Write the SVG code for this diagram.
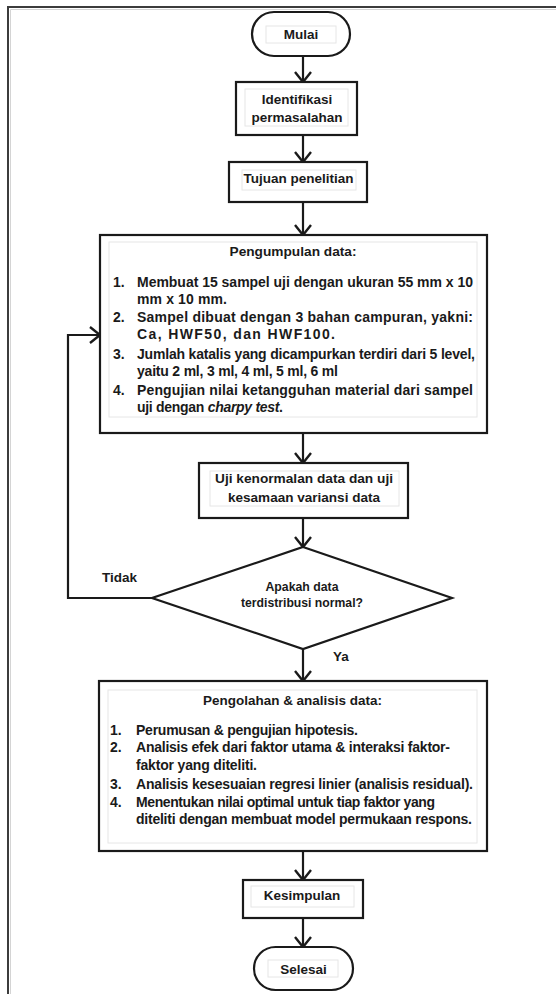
<svg xmlns="http://www.w3.org/2000/svg" width="556" height="994" viewBox="0 0 556 994">
<style>
  text { font-family: "Liberation Sans", Arial, sans-serif; font-weight: bold; font-size: 13.5px; fill: #1a1a1a; }
  .c { text-anchor: middle; }
  .d { font-size: 12px; }
  .l { font-size: 14px; }
  .box { fill: #ffffff; stroke: #1a1a1a; stroke-width: 2.2; }
  .inner { fill: none; stroke: #e6e6e6; stroke-width: 1; }
  .conn { fill: none; stroke: #1a1a1a; stroke-width: 2.2; marker-end: url(#arr); }
</style>
<defs>
  <marker id="arr" markerUnits="userSpaceOnUse" viewBox="-12 -10 14 20" markerWidth="14" markerHeight="20" refX="0" refY="0" orient="auto">
    <path d="M-10,-8 L0,0 L-10,8" fill="none" stroke="#1a1a1a" stroke-width="2.4"/>
  </marker>
</defs>
<rect width="556" height="994" fill="#ffffff"/>
<g id="frame">
  <path d="M8,994 V7 H556" fill="none" stroke="#3c3c3c" stroke-width="2"/>
  <path d="M10.5,994 V9.5 H556" fill="none" stroke="#d4d4d4" stroke-width="1"/>
</g>
<g id="connectors">
  <path class="conn" d="M303,56 V82"/>
  <path class="conn" d="M303,135 V162"/>
  <path class="conn" d="M303,202 V235"/>
  <path class="conn" d="M303,433 V463"/>
  <path class="conn" d="M303,518 V547"/>
  <path class="conn" d="M303,649 V681"/>
  <path class="conn" d="M303,851 V880"/>
  <path class="conn" d="M303,918 V947"/>
  <path class="conn" d="M152,598 H68 V335 H100"/>
  <text x="102" y="582">Tidak</text>
  <text x="333" y="661">Ya</text>
</g>
<g id="mulai">
  <rect class="box" x="252" y="12" width="98" height="44" rx="22"/>
  <rect class="inner" x="266" y="26" width="70" height="17"/>
  <text class="c" x="301" y="39">Mulai</text>
</g>
<g id="identifikasi">
  <rect class="box" x="236" y="82" width="121" height="53"/>
  <rect class="inner" x="245" y="89" width="103" height="37"/>
  <text class="c" x="297" y="104">Identifikasi</text>
  <text class="c" x="297" y="122">permasalahan</text>
</g>
<g id="tujuan">
  <rect class="box" x="229" y="162" width="138" height="40"/>
  <rect class="inner" x="242" y="170" width="114" height="20"/>
  <text class="c" x="298.5" y="183">Tujuan penelitian</text>
</g>
<g id="pengumpulan">
  <rect class="box" x="100" y="235" width="387" height="198"/>
  <rect class="inner" x="109" y="242" width="368" height="175"/>
  <text class="c" x="293" y="256" textLength="127" lengthAdjust="spacingAndGlyphs">Pengumpulan data:</text>
  <text class="l" x="113" y="287">1.</text>
  <text class="l" x="137" y="287" textLength="336" lengthAdjust="spacing">Membuat 15 sampel uji dengan ukuran 55 mm x 10</text>
  <text class="l" x="137" y="304" textLength="90" lengthAdjust="spacing">mm x 10 mm.</text>
  <text class="l" x="113" y="322">2.</text>
  <text class="l" x="137" y="322" textLength="336" lengthAdjust="spacing">Sampel dibuat dengan 3 bahan campuran, yakni:</text>
  <text class="l" x="137" y="339" textLength="198" lengthAdjust="spacing">Ca, HWF50, dan HWF100.</text>
  <text class="l" x="113" y="359">3.</text>
  <text class="l" x="137" y="359" textLength="338" lengthAdjust="spacing">Jumlah katalis yang dicampurkan terdiri dari 5 level,</text>
  <text class="l" x="137" y="376" textLength="201" lengthAdjust="spacing">yaitu 2 ml, 3 ml, 4 ml, 5 ml, 6 ml</text>
  <text class="l" x="113" y="395">4.</text>
  <text class="l" x="137" y="395" textLength="336" lengthAdjust="spacing">Pengujian nilai ketangguhan material dari sampel</text>
  <text class="l" x="137" y="412" textLength="146" lengthAdjust="spacing">uji dengan <tspan font-style="italic">charpy test</tspan>.</text>
</g>
<g id="uji">
  <rect class="box" x="199" y="463" width="209" height="55"/>
  <rect class="inner" x="210" y="471" width="189" height="35"/>
  <text class="c" x="304" y="483" textLength="178" lengthAdjust="spacingAndGlyphs">Uji kenormalan data dan uji</text>
  <text class="c" x="304" y="502" textLength="152" lengthAdjust="spacingAndGlyphs">kesamaan variansi data</text>
</g>
<g id="keputusan">
  <polygon class="box" points="303,547 452,598 303,649 152,598"/>
  <text class="c d" x="302" y="591" textLength="73" lengthAdjust="spacingAndGlyphs">Apakah data</text>
  <text class="c d" x="302" y="607" textLength="122" lengthAdjust="spacingAndGlyphs">terdistribusi normal?</text>
</g>
<g id="pengolahan">
  <rect class="box" x="99" y="681" width="388" height="170"/>
  <rect class="inner" x="108" y="690" width="369" height="153"/>
  <text class="c" x="292.5" y="705" textLength="179" lengthAdjust="spacingAndGlyphs">Pengolahan &amp; analisis data:</text>
  <text class="l" x="110" y="735">1.</text>
  <text class="l" x="136" y="735" textLength="222" lengthAdjust="spacing">Perumusan &amp; pengujian hipotesis.</text>
  <text class="l" x="110" y="752">2.</text>
  <text class="l" x="136" y="752" textLength="314" lengthAdjust="spacing">Analisis efek dari faktor utama &amp; interaksi faktor-</text>
  <text class="l" x="136" y="770" textLength="121" lengthAdjust="spacing">faktor yang diteliti.</text>
  <text class="l" x="110" y="789">3.</text>
  <text class="l" x="136" y="789" textLength="337" lengthAdjust="spacing">Analisis kesesuaian regresi linier (analisis residual).</text>
  <text class="l" x="110" y="807">4.</text>
  <text class="l" x="136" y="807" textLength="299" lengthAdjust="spacing">Menentukan nilai optimal untuk tiap faktor yang</text>
  <text class="l" x="136" y="824" textLength="336" lengthAdjust="spacing">diteliti dengan membuat model permukaan respons.</text>
</g>
<g id="kesimpulan">
  <rect class="box" x="243" y="880" width="120" height="38"/>
  <rect class="inner" x="251" y="886" width="103" height="21"/>
  <text class="c" x="302" y="900">Kesimpulan</text>
</g>
<g id="selesai">
  <rect class="box" x="254" y="947" width="99" height="43" rx="21.5"/>
  <rect class="inner" x="268" y="960" width="70" height="17"/>
  <text class="c" x="303.5" y="974">Selesai</text>
</g>
</svg>
